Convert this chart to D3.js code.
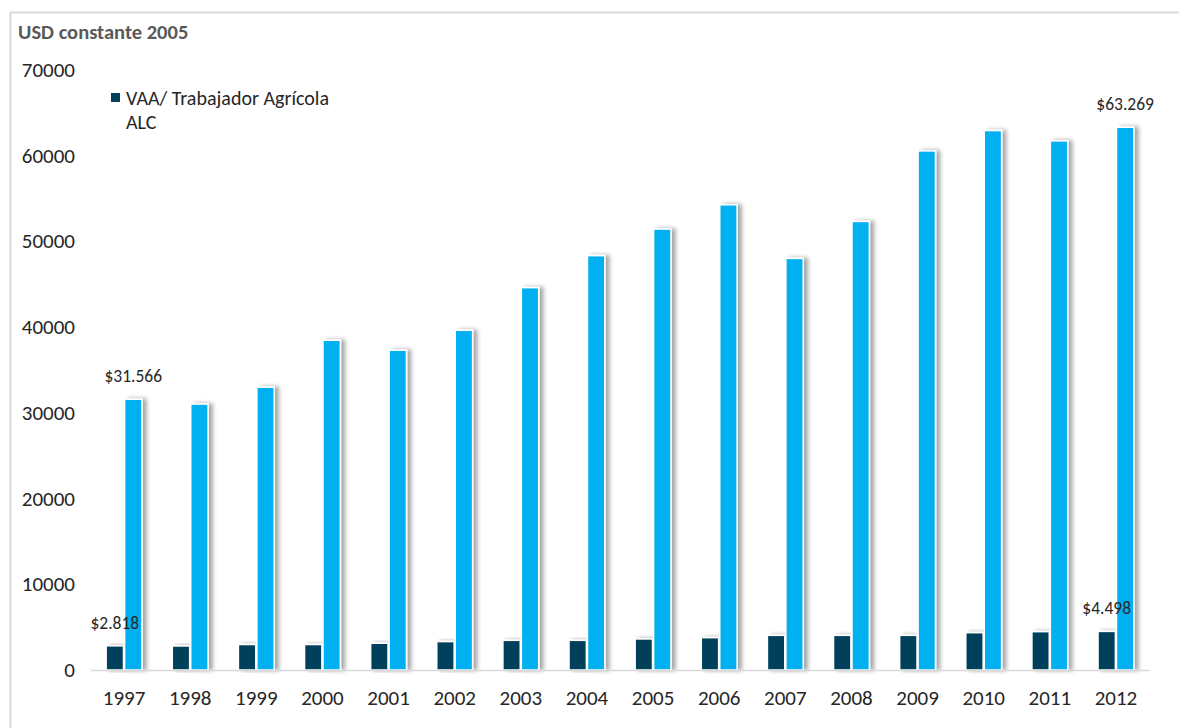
<!DOCTYPE html>
<html>
<head>
<meta charset="utf-8">
<script src="https://cdn.jsdelivr.net/npm/d3@7"></script>
<style>
  html, body { margin: 0; padding: 0; background: #fff; }
  svg { display: block; }
  text { font-family: Carlito, Calibri, Lato, "Open Sans", sans-serif; }
</style>
</head>
<body>
<svg id="chart" width="1179" height="728"></svg>
<script>
const years = ["1997","1998","1999","2000","2001","2002","2003","2004","2005","2006","2007","2008","2009","2010","2011","2012"];
const vaaValues = [2818, 2800, 2970, 2970, 3120, 3310, 3460, 3460, 3620, 3770, 4040, 4040, 4040, 4350, 4470, 4498];
const alcValues = [31566, 31000, 32970, 38440, 37280, 39600, 44570, 48300, 51400, 54230, 47980, 52290, 60510, 62880, 61680, 63269];
const seriesNames = ["VAA/ Trabajador Agrícola", "ALC"];
const yTicks = [0, 10000, 20000, 30000, 40000, 50000, 60000, 70000];
const yAxisTitle = "USD constante 2005";
const labelledPoints = [
  {series: 0, index: 0, text: "$2.818"},
  {series: 1, index: 0, text: "$31.566"},
  {series: 0, index: 15, text: "$4.498"},
  {series: 1, index: 15, text: "$63.269"}
];

const colors = ["#02415A", "#00B0F0"];
const svg = d3.select("#chart");

// shadow filter
const defs = svg.append("defs");
const f = defs.append("filter").attr("id", "shadow").attr("x", "-50%").attr("y", "-10%").attr("width", "200%").attr("height", "120%");
f.append("feDropShadow").attr("dx", 4).attr("dy", 0).attr("stdDeviation", 2.2)
  .attr("flood-color", "#000").attr("flood-opacity", 0.35);

// frame
svg.append("line").attr("x1", 10).attr("x2", 1179).attr("y1", 12.5).attr("y2", 12.5)
  .attr("stroke", "#d9d9d9").attr("stroke-width", 2);
svg.append("line").attr("x1", 10.5).attr("x2", 10.5).attr("y1", 12).attr("y2", 728)
  .attr("stroke", "#d9d9d9").attr("stroke-width", 2);

const x0 = d3.scaleBand().domain(years).range([91, 1149]).paddingInner(0.425).paddingOuter(0.2125);
const x1 = d3.scaleBand().domain([0, 1]).range([0, x0.bandwidth()]).padding(0.06);
const y = d3.scaleLinear().domain([0, 70000]).range([670, 69.5]);

// y axis labels
const yAxis = d3.axisLeft(y).tickValues(yTicks).tickFormat(d3.format("d")).tickSize(0).tickPadding(0);
const yg = svg.append("g").attr("transform", "translate(75,0)").call(yAxis);
yg.select(".domain").remove();
yg.selectAll("text").attr("font-size", 21).attr("fill", "#262626")
  .style("font-family", "Carlito, Calibri, Lato, sans-serif");

// title
svg.append("text").attr("x", 18).attr("y", 39).text(yAxisTitle)
  .attr("font-size", 20.5).attr("font-weight", "bold").attr("fill", "#595959");

// bars
const series = [vaaValues, alcValues];
const groups = svg.append("g");
series.forEach((vals, s) => {
  groups.selectAll(".bar" + s).data(vals).join("rect")
    .attr("class", "bar" + s)
    .attr("x", (d, i) => x0(years[i]) + x1(s))
    .attr("width", x1.bandwidth())
    .attr("y", d => y(d))
    .attr("height", d => y(0) - y(d))
    .attr("fill", colors[s])
    .attr("stroke", "#fff").attr("stroke-width", 1.5)
    .attr("filter", "url(#shadow)");
});

// baseline
svg.append("line").attr("x1", 91).attr("x2", 1150).attr("y1", y(0) + 0.5).attr("y2", y(0) + 0.5)
  .attr("stroke", "#d9d9d9").attr("stroke-width", 1.5);

// x axis
const xAxis = d3.axisBottom(x0).tickSize(0).tickPadding(0);
const xg = svg.append("g").attr("transform", "translate(0,689)").call(xAxis);
xg.select(".domain").remove();
xg.selectAll("text").attr("font-size", 21).attr("fill", "#262626").attr("dy", "0.75em")
  .style("font-family", "Carlito, Calibri, Lato, sans-serif");

// data labels
svg.append("g").selectAll("text").data(labelledPoints).join("text")
  .attr("x", d => x0(years[d.index]) + x1(d.series) + x1.bandwidth() / 2)
  .attr("y", d => y(series[d.series][d.index]) - 17)
  .attr("text-anchor", "middle")
  .attr("font-size", 17.5).attr("fill", "#262626")
  .text(d => d.text);

// legend
const lg = svg.append("g");
lg.append("rect").attr("x", 111).attr("y", 93).attr("width", 9).attr("height", 9).attr("fill", colors[0]);
lg.append("text").attr("x", 126).attr("y", 105).attr("font-size", 20).attr("fill", "#262626").text(seriesNames[0]);
lg.append("text").attr("x", 126).attr("y", 129).attr("font-size", 20).attr("fill", "#262626").text(seriesNames[1]);
</script>
</body>
</html>
